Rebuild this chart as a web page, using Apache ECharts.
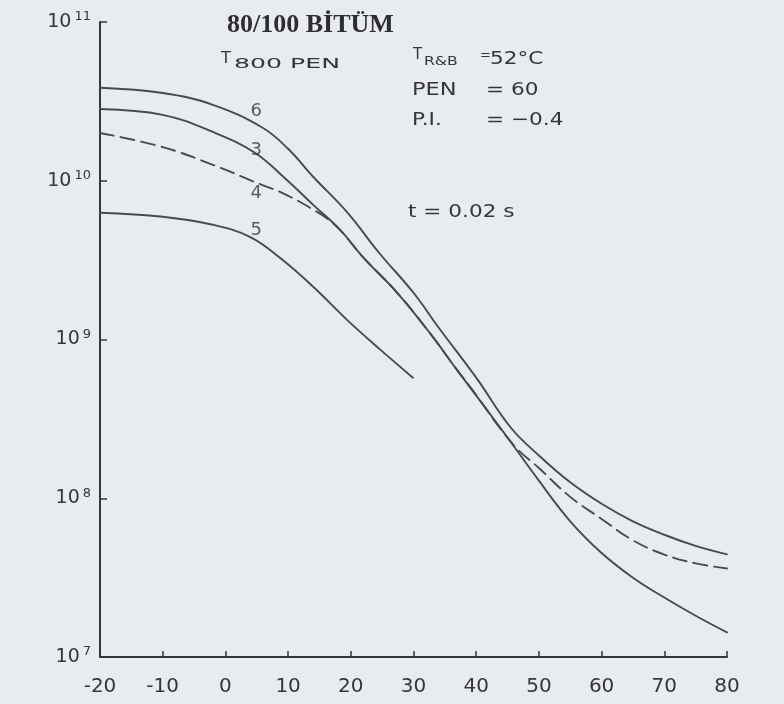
<!DOCTYPE html>
<html>
<head>
<meta charset="utf-8">
<title>80/100 Bitüm – Rijitlik modülü</title>
<script src="https://cdn.jsdelivr.net/npm/echarts@6/dist/echarts.min.js"></script>
<style>
  html, body { margin: 0; padding: 0; background: #e8ebf0; }
  #chart { width: 784px; height: 704px; }
</style>
</head>
<body>
<div id="chart"></div>
<script>
// Temperature (°C) and stiffness (Pa) for each T800 PEN curve, t = 0.02 s
const temps6  = [-20, -10, -2, 6, 10, 14, 19.5, 24.5, 30, 34, 40, 45.5, 50, 55, 60, 65, 70, 75, 80];
const stiff6  = [3.85e10, 3.57e10, 3.01e10, 2.15e10, 1.59e10, 1.06e10, 6.28e9, 3.52e9, 1.97e9, 1.19e9, 5.75e8, 2.79e8, 1.86e8, 1.26e8, 9.23e7, 7.16e7, 5.89e7, 5.01e7, 4.43e7];

const temps3  = [-20, -10, -2, 4.7, 9.8, 14, 18.3, 21.9, 27.4, 32.6, 36.9, 44.9, 50, 55, 60, 65, 70, 75, 80];
const stiff3  = [2.83e10, 2.60e10, 2.03e10, 1.50e10, 1.01e10, 7.05e9, 4.91e9, 3.32e9, 1.97e9, 1.10e9, 6.46e8, 2.44e8, 1.29e8, 7.16e7, 4.52e7, 3.16e7, 2.37e7, 1.82e7, 1.43e7];

const temps4  = [-20, -10, -2, 5.8, 8.7, 13.5, 17.5, 21.9, 27.4, 32.6, 36.9, 39, 45.9, 50, 55, 60, 65, 70, 75, 80];
const stiff4  = [2.00e10, 1.63e10, 1.26e10, 9.42e9, 8.51e9, 6.76e9, 5.25e9, 3.32e9, 1.97e9, 1.10e9, 6.46e8, 5.05e8, 2.18e8, 1.55e8, 1.02e8, 7.41e7, 5.43e7, 4.42e7, 3.89e7, 3.61e7];

const temps5  = [-20, -10, -2, 3.9, 8.7, 14, 19.4, 24.7, 29.9];
const stiff5  = [6.28e9, 5.93e9, 5.28e9, 4.43e9, 3.27e9, 2.15e9, 1.33e9, 8.63e8, 5.75e8];

// Curve numbers written beside the lines
const curveNames = ['6', '3', '4', '5'];
const nameTemps  = [4.9, 4.9, 4.9, 4.9];
const nameStiff  = [2.75e10, 1.56e10, 8.28e9, 4.84e9];

const ink = '#363636';
const lineInk = '#4a4a4a';
const letterFont = '"DejaVu Sans", sans-serif';

function pairs(xs, ys) { return xs.map((x, i) => [x, ys[i]]); }

function curve(name, xs, ys, dashed) {
  return {
    name: name,
    type: 'line',
    data: pairs(xs, ys),
    smooth: 0.4,
    showSymbol: false,
    silent: true,
    lineStyle: { color: lineInk, width: 1.9, type: dashed ? [14, 7] : 'solid', cap: 'round' },
    z: 3
  };
}

function note(text, x, y, size, scaleX) {
  return {
    type: 'text', x: x, y: y, scaleX: scaleX || 1, silent: true,
    style: { text: text, fill: ink, font: size + 'px ' + letterFont,
             align: 'left', verticalAlign: 'middle', textAlign: 'left', textVerticalAlign: 'middle' }
  };
}

const chart = echarts.init(document.getElementById('chart'), null, { renderer: 'canvas' });

chart.setOption({
  backgroundColor: '#e8ebf0',
  animation: false,
  grid: { left: 100, right: 57, top: 22, bottom: 47 },
  xAxis: {
    type: 'value',
    min: -20, max: 80, interval: 10,
    axisLine: { show: true, onZero: false, lineStyle: { color: ink, width: 2 } },
    axisTick: { show: true, inside: true, length: 6, lineStyle: { color: ink, width: 1.5 } },
    axisLabel: { color: ink, fontFamily: letterFont, fontSize: 20, margin: 20,
                 formatter: v => (v < 0 ? '-' + Math.abs(v) : String(v)) },
    splitLine: { show: false }
  },
  yAxis: {
    type: 'log',
    logBase: 10,
    min: 1e7, max: 1e11,
    axisLine: { show: true, onZero: false, lineStyle: { color: ink, width: 2 } },
    axisTick: { show: true, inside: true, length: 7, lineStyle: { color: ink, width: 1.5 } },
    axisLabel: {
      color: ink, margin: 9,
      formatter: v => '{b|10}{e|' + Math.round(Math.log10(v)) + '}',
      rich: {
        b: { fontFamily: letterFont, fontSize: 19, color: ink },
        e: { fontFamily: letterFont, fontSize: 13, color: ink, verticalAlign: 'top', padding: [0, 0, 10, 3] }
      }
    },
    splitLine: { show: false }
  },
  series: [
    curve('6', temps6, stiff6, false),
    curve('3', temps3, stiff3, false),
    curve('4', temps4, stiff4, true),
    curve('5', temps5, stiff5, false),
    {
      name: 'curve numbers',
      type: 'scatter',
      data: curveNames.map((n, i) => ({ value: [nameTemps[i], nameStiff[i]], name: n })),
      symbolSize: 0,
      silent: true,
      label: { show: true, position: 'inside', formatter: p => p.name,
               fontFamily: letterFont, fontSize: 18, color: ink },
      z: 4
    }
  ],
  graphic: [
    { type: 'text', x: 227, y: 25, silent: true,
      style: { text: '80/100 BİTÜM', fill: '#2e2e2e', font: 'bold 26px "Liberation Serif", serif',
               align: 'left', verticalAlign: 'middle', textAlign: 'left', textVerticalAlign: 'middle' } },
    note('T', 221, 59, 16),
    note('800 PEN', 234, 64, 14, 1.8),

    note('T', 413, 55, 15),
    note('R&B', 424, 62, 12, 1.3),
    note('=', 480, 56, 13),
    note('52°C', 490, 59, 18, 1.2),

    note('PEN', 412, 90, 18, 1.25),
    note('= 60', 486, 90, 18, 1.2),

    note('P.I.', 412, 120, 18, 1.2),
    note('= −0.4', 486, 120, 18, 1.2),

    note('t = 0.02 s', 408, 212, 18, 1.2)
  ]
});
</script>
</body>
</html>
